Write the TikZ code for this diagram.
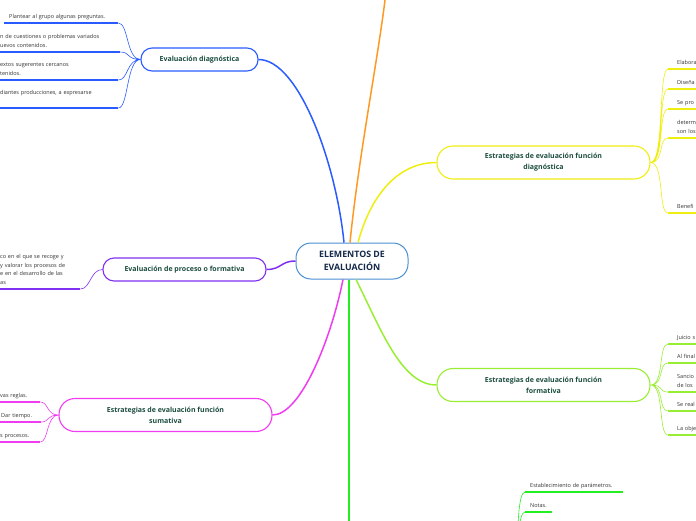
\documentclass[tikz,border=0pt]{standalone}
\usepackage{fontspec}
\setmainfont{Open Sans}
\usepackage{xcolor}
\usepackage{tikz}
\usetikzlibrary{
  positioning
}
\definecolor{HubBlue}{HTML}{4A90D2}
\definecolor{HubText}{HTML}{14284B}
\definecolor{TitleGreen}{HTML}{1B4D3E}
\definecolor{LeafGray}{HTML}{333333}
\definecolor{DiagBlue}{HTML}{2A5BFF}
\definecolor{ProcPurple}{HTML}{8030F0}
\definecolor{SumMagenta}{HTML}{F03CF0}
\definecolor{StratYellow}{HTML}{EEEE11}
\definecolor{FormLime}{HTML}{99EE33}
\definecolor{MidGreen}{HTML}{22EE22}
\definecolor{TopOrange}{HTML}{FF9922}
\tikzset{
  hub/.style={
    draw=HubBlue,
    line width=1pt,
    fill=white,
    rounded corners=15pt,
    minimum width=112pt,
    minimum height=36pt,
    align=center,
    text=HubText,
    font=\fontsize{8.8}{13}\selectfont\bfseries
  },
  topic/.style={
    draw,
    line width=1.1pt,
    fill=white,
    rounded corners=11pt,
    minimum height=23pt,
    align=center,
    text=TitleGreen,
    font=\fontsize{7}{11}\selectfont\bfseries
  },
  topictwo/.style={
    topic,
    rounded corners=16pt,
    minimum width=213pt,
    minimum height=33pt
  },
  leaf/.style={
    anchor=south west,
    align=left,
    inner xsep=5pt,
    inner ysep=1.8pt,
    text=LeafGray,
    font=\fontsize{5.5}{8.5}\selectfont,
    execute at end node=\strut
  },
  leafright/.style={
    leaf,
    inner xsep=9pt,
    text width=60pt
  },
  branch/.style={
    line width=1.5pt
  },
  twig/.style={
    line width=0.6pt
  },
  underline/.style={
    line width=1.6pt
  }
}

\begin{document}
\begin{tikzpicture}[
  x=1pt,
  y=-1pt
]
  \useasboundingbox (0,0) rectangle (696,520);
  \clip (0,0) rectangle (696,520);

  \node[hub] (elementos) at (352,261) {ELEMENTOS DE\\EVALUACIÓN};

  \node[topic, draw=DiagBlue, minimum width=117pt] (diagnostica) at (199.5,59.5) {Evaluación diagnóstica};
  \node[topic, draw=ProcPurple, minimum width=163pt] (proceso) at (184.5,269.5) {Evaluación de proceso o formativa};
  \node[topictwo, draw=SumMagenta] (sumativa) at (165.5,415) {Estrategias de evaluación función\\sumativa};
  \node[topictwo, draw=StratYellow] (estdiag) at (543.5,162.5) {Estrategias de evaluación función\\diagnóstica};
  \node[topictwo, draw=FormLime] (estform) at (543.5,385) {Estrategias de evaluación función\\formativa};

  % branches leaving the picture
  \coordinate (arriba) at (388,-30);
  \coordinate (abajo) at (349,570);
  \coordinate (abajohub) at (517,590);

  \node[leaf, text width=104pt] (diag1) at (4,23) {Plantear al grupo algunas preguntas.};
  \node[leaf, text width=115pt] (diag2) at (-5,52) {n de cuestiones o problemas variados\\uevos contenidos.};
  \node[leaf, text width=113pt] (diag3) at (-5,80) {extos sugerentes cercanos\\tenidos.};
  \node[leaf, text width=113pt] (diag4) at (-5,108) {diantes producciones, a expresarse\\\mbox{}};

  \node[leaf, text width=75pt] (proc1) at (-5,289) {co en el que se recoge y\\y valorar los procesos de\\e en el desarrollo de las\\as};

  \node[leaf, text width=35pt] (sum1) at (-5,402) {vas reglas.};
  \node[leaf, text width=35pt] (sum2) at (-4,422) {Dar tiempo.};
  \node[leaf, text width=35pt] (sum3) at (-5,442) {s procesos.};

  \node[leafright] (ediag1) at (668,69) {Elabora};
  \node[leafright] (ediag2) at (668,89) {Diseña};
  \node[leafright] (ediag3) at (668,109) {Se pro};
  \node[leafright] (ediag4) at (668,138) {determ\\son los};
  \node[leafright] (ediag5) at (668,213) {Benefi};

  \node[leafright] (eform1) at (668,344) {Juicio s};
  \node[leafright] (eform2) at (668,363) {Al final};
  \node[leafright] (eform3) at (668,392) {Sancio\\de los};
  \node[leafright] (eform4) at (668,411) {Se real};
  \node[leafright] (eform5) at (668,435) {La obje};

  \node[leaf, text width=88pt] (verif1) at (525,492) {Establecimiento de parámetros.};
  \node[leaf, text width=17pt] (verif2) at (525,512) {Notas.};

  \draw[branch, DiagBlue] ([xshift=-8pt]elementos.north) .. controls +(-8,-80) and +(40,0) .. (diagnostica.east);
  \draw[branch, TopOrange] ([xshift=-2pt]elementos.north) .. controls +(10,-100) and +(-4,60) .. (arriba);
  \draw[branch, StratYellow] ([xshift=6pt]elementos.north) .. controls +(12,-45) and +(-40,0) .. (estdiag.west);
  \draw[branch, ProcPurple] (elementos.west) .. controls +(-15,0) and +(15,0) .. (proceso.east);
  \draw[branch, SumMagenta] ([xshift=-9pt]elementos.south) .. controls +(-12,60) and +(28,0) .. (sumativa.east);
  \draw[branch, MidGreen] ([xshift=-3pt]elementos.south) -- (abajo);
  \draw[branch, FormLime] ([xshift=4pt]elementos.south) .. controls +(25,50) and +(-35,0) .. (estform.west);

  \draw[twig, DiagBlue]
    (diagnostica.west) .. controls +(-14,0) and +(10,0) .. (diag1.south east)
    (diagnostica.west) .. controls +(-14,0) and +(10,0) .. (diag2.south east)
    (diagnostica.west) .. controls +(-14,0) and +(10,0) .. (diag3.south east)
    (diagnostica.west) .. controls +(-14,0) and +(10,0) .. (diag4.south east);
  \draw[underline, DiagBlue]
    (diag1.south west) -- (diag1.south east)
    (diag2.south west) -- (diag2.south east)
    (diag3.south west) -- (diag3.south east)
    (diag4.south west) -- (diag4.south east);

  \draw[twig, ProcPurple] (proceso.west) .. controls +(-12,0) and +(10,0) .. (proc1.south east);
  \draw[underline, ProcPurple] (proc1.south west) -- (proc1.south east);

  \draw[twig, SumMagenta]
    (sumativa.west) .. controls +(-12,0) and +(8,0) .. (sum1.south east)
    (sumativa.west) .. controls +(-12,0) and +(8,0) .. (sum2.south east)
    (sumativa.west) .. controls +(-12,0) and +(8,0) .. (sum3.south east);
  \draw[underline, SumMagenta]
    (sum1.south west) -- (sum1.south east)
    (sum2.south west) -- (sum2.south east)
    (sum3.south west) -- (sum3.south east);

  \draw[twig, StratYellow]
    (estdiag.east) .. controls +(14,0) and +(-10,0) .. (ediag1.south west)
    (estdiag.east) .. controls +(14,0) and +(-10,0) .. (ediag2.south west)
    (estdiag.east) .. controls +(14,0) and +(-10,0) .. (ediag3.south west)
    (estdiag.east) .. controls +(14,0) and +(-10,0) .. (ediag4.south west)
    (estdiag.east) .. controls +(14,0) and +(-10,0) .. (ediag5.south west);
  \draw[underline, StratYellow]
    (ediag1.south west) -- (ediag1.south east)
    (ediag2.south west) -- (ediag2.south east)
    (ediag3.south west) -- (ediag3.south east)
    (ediag4.south west) -- (ediag4.south east)
    (ediag5.south west) -- (ediag5.south east);

  \draw[twig, FormLime]
    (estform.east) .. controls +(14,0) and +(-10,0) .. (eform1.south west)
    (estform.east) .. controls +(14,0) and +(-10,0) .. (eform2.south west)
    (estform.east) .. controls +(14,0) and +(-10,0) .. (eform3.south west)
    (estform.east) .. controls +(14,0) and +(-10,0) .. (eform4.south west)
    (estform.east) .. controls +(14,0) and +(-10,0) .. (eform5.south west);
  \draw[underline, FormLime]
    (eform1.south west) -- (eform1.south east)
    (eform2.south west) -- (eform2.south east)
    (eform3.south west) -- (eform3.south east)
    (eform4.south west) -- (eform4.south east)
    (eform5.south west) -- (eform5.south east);

  \draw[twig, MidGreen]
    (abajohub) .. controls +(0,-60) and +(-7,0) .. (verif1.south west)
    (abajohub) .. controls +(0,-40) and +(-7,0) .. (verif2.south west);
  \draw[underline, MidGreen]
    (verif1.south west) -- (verif1.south east)
    (verif2.south west) -- (verif2.south east);

\end{tikzpicture}
\end{document}
